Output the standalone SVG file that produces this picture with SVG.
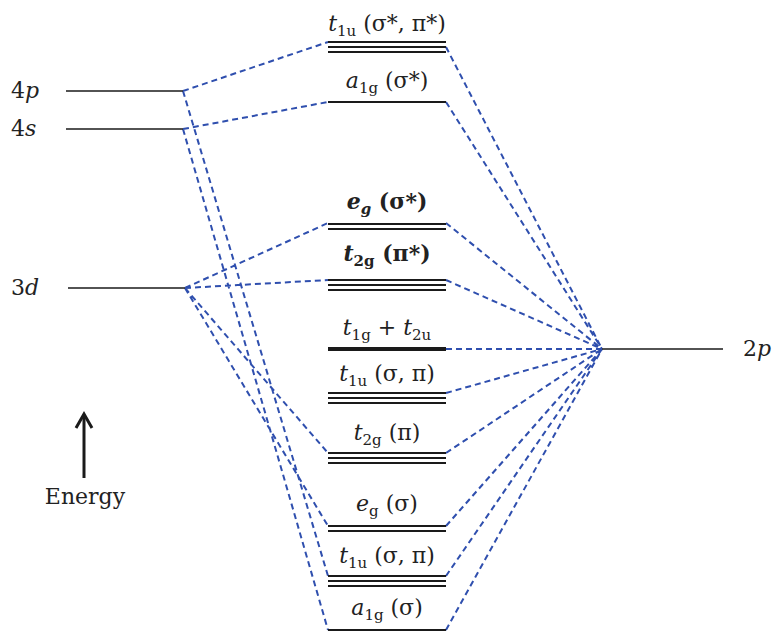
<svg xmlns="http://www.w3.org/2000/svg" width="772" height="632" viewBox="0 0 772 632">
<style>
text{font-family:"DejaVu Serif","Liberation Serif",serif;font-size:22px;fill:#222}
.i{font-style:italic}
.s{font-size:15px}
.b{font-weight:bold}
.lv{stroke:#1a1a1a;stroke-width:2}
.ao{stroke:#1a1a1a;stroke-width:1.6}
.c{stroke:#2f4fae;stroke-width:2;stroke-dasharray:6 4;fill:none}
</style>
<rect width="772" height="632" fill="#fff"/>
<g id="connectors">
<path class="c" d="M183 91L328 42M183 129L328 102M185 288L328 223M185 288L328 280M185 288L328 453M185 288L328 526M183 91L328 576M183 129L328 630"/>
<path class="c" d="M446 47L602 349M446 102L602 349M446 223L602 349M446 280L602 349M446 349L602 349M446 393L602 349M446 453L602 349M446 526L602 349M446 576L602 349M446 630L602 349"/>
</g>
<g id="ao-4p"><line class="ao" x1="66" y1="91" x2="183" y2="91"/><text x="11" y="98"><tspan>4</tspan><tspan class="i">p</tspan></text></g>
<g id="ao-4s"><line class="ao" x1="66" y1="129" x2="183" y2="129"/><text x="11" y="136"><tspan>4</tspan><tspan class="i">s</tspan></text></g>
<g id="ao-3d"><line class="ao" x1="68" y1="288" x2="185" y2="288"/><text x="11" y="295"><tspan>3</tspan><tspan class="i">d</tspan></text></g>
<g id="ao-2p"><line class="ao" x1="602" y1="349" x2="723" y2="349"/><text x="743" y="356"><tspan>2</tspan><tspan class="i">p</tspan></text></g>
<g id="mo-t1u-star"><path class="lv" d="M328 42H446M328 47H446M328 52H446"/><text x="387" y="31" text-anchor="middle"><tspan class="i">t</tspan><tspan class="s" dy="5">1u</tspan><tspan dy="-5"> (σ*, π*)</tspan></text></g>
<g id="mo-a1g-star"><path class="lv" d="M328 102H446"/><text x="387" y="88" text-anchor="middle"><tspan class="i">a</tspan><tspan class="s" dy="5">1g</tspan><tspan dy="-5"> (σ*)</tspan></text></g>
<g id="mo-eg-star"><path class="lv" d="M328 224H446M328 229H446"/><text x="387" y="209" text-anchor="middle" class="b"><tspan class="i">e</tspan><tspan class="s i" dy="5">g</tspan><tspan dy="-5"> (σ*)</tspan></text></g>
<g id="mo-t2g-star"><path class="lv" d="M328 280H446M328 285H446M328 290H446"/><text x="387" y="261" text-anchor="middle" class="b"><tspan class="i">t</tspan><tspan class="s" dy="5">2g</tspan><tspan dy="-5"> (π*)</tspan></text></g>
<g id="mo-t1g-t2u"><path d="M328 349H446" stroke="#1a1a1a" stroke-width="4"/><text x="387" y="335" text-anchor="middle"><tspan class="i">t</tspan><tspan class="s" dy="5">1g</tspan><tspan dy="-5"> + </tspan><tspan class="i">t</tspan><tspan class="s" dy="5">2u</tspan></text></g>
<g id="mo-t1u"><path class="lv" d="M328 393H446M328 398H446M328 403H446"/><text x="387" y="381" text-anchor="middle"><tspan class="i">t</tspan><tspan class="s" dy="5">1u</tspan><tspan dy="-5"> (σ, π)</tspan></text></g>
<g id="mo-t2g"><path class="lv" d="M328 453H446M328 458H446M328 463H446"/><text x="387" y="440" text-anchor="middle"><tspan class="i">t</tspan><tspan class="s" dy="5">2g</tspan><tspan dy="-5"> (π)</tspan></text></g>
<g id="mo-eg"><path class="lv" d="M328 526H446M328 531H446"/><text x="387" y="511" text-anchor="middle"><tspan class="i">e</tspan><tspan class="s" dy="5">g</tspan><tspan dy="-5"> (σ)</tspan></text></g>
<g id="mo-t1u-b"><path class="lv" d="M328 576H446M328 581H446M328 586H446"/><text x="387" y="563" text-anchor="middle"><tspan class="i">t</tspan><tspan class="s" dy="5">1u</tspan><tspan dy="-5"> (σ, π)</tspan></text></g>
<g id="mo-a1g"><path class="lv" d="M328 630H446"/><text x="387" y="615" text-anchor="middle"><tspan class="i">a</tspan><tspan class="s" dy="5">1g</tspan><tspan dy="-5"> (σ)</tspan></text></g>
<g id="energy"><line x1="84" y1="478" x2="84" y2="416" stroke="#1a1a1a" stroke-width="3"/><path d="M76 428L84 414L92 428" fill="none" stroke="#1a1a1a" stroke-width="3"/><text x="85" y="504" text-anchor="middle">Energy</text></g>
</svg>
